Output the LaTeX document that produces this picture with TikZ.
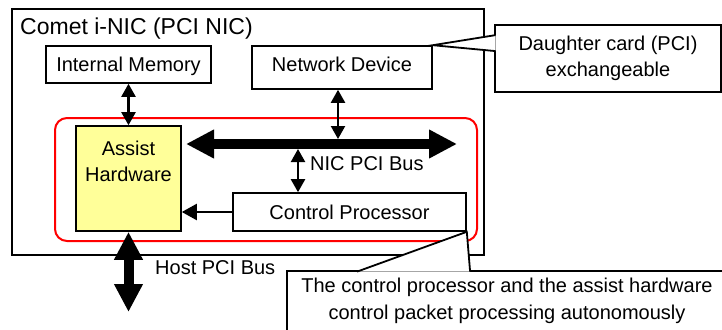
\documentclass[tikz,border=0pt]{standalone}
\usepackage{fontspec}
\setmainfont{Liberation Sans}
\usetikzlibrary{arrows.meta,calc}
\definecolor{hwyellow}{RGB}{255,255,153}
\tikzset{
  box/.style={draw=black,line width=1.6pt,fill=white,inner sep=0pt},
  onebox/.style={box,text height=14pt,text depth=0pt},
  tag/.style={anchor=base west,inner sep=0pt},
  link/.style={line width=2.2pt,{Triangle[length=13pt,width=14pt]}-{Triangle[length=13pt,width=14pt]}},
  bus/.style={line width=10pt,{Triangle[length=28pt,width=27pt]}-{Triangle[length=28pt,width=27pt]}},
  pointer/.style={fill=white,draw=black,line width=1.8pt,line join=miter},
}

\begin{document}
\begin{tikzpicture}[x=1pt,y=-1pt,font=\fontsize{20}{26.5}\selectfont]
        \useasboundingbox (0,0) rectangle (722,329);
        \clip (0,0) rectangle (722,329);

        % board and the autonomous part
        \node[draw=black,line width=2pt,minimum width=472pt,minimum height=246pt,inner sep=0pt] (nic) at (248,132) {};
        \node[tag,font=\fontsize{23}{27}\selectfont] (title) at (20,35) {Comet i-NIC (PCI NIC)};
        \node[draw=red,line width=2pt,rounded corners=12pt,minimum width=422pt,minimum height=123pt,inner sep=0pt] (grp) at (266,179.5) {};

        % units
        \node[onebox,minimum width=165pt,minimum height=37pt] (im) at (128.5, 64.5) {Internal Memory};
        \node[onebox,text height=8.5pt,minimum width=180pt,minimum height=43pt] (nd) at (342, 67.5) {Network Device};
        \node[box,fill=hwyellow,minimum width=105pt,minimum height=105pt,
              label={[align=center,anchor=north,inner sep=0pt,yshift=-15.5pt]north:Assist\\Hardware}] (ah) at (128.5, 178.5) {};
        \node[onebox,minimum width=233pt,minimum height=38pt] (cp) at (349.5, 212) {Control Processor};

        % buses
        \coordinate (busL) at (186, 144);
        \coordinate (busR) at (457, 144);
        \coordinate (host) at (128.5, 312);
        \draw[bus] (busL) -- (busR);
        \draw[bus] (ah.south) -- (host);
        \node[tag] (nicbus)  at (310, 170) {NIC PCI Bus};
        \node[tag] (hostbus) at (155, 274) {Host PCI Bus};

        % links
        \coordinate (ndbus) at (338, 139);
        \coordinate (cpbus) at (298, 149);
        \draw[link] (im.south) -- (ah.north);
        \draw[link] (nd.south -| ndbus) -- (ndbus);
        \draw[link] (cpbus) -- (cpbus |- cp.north);
        \draw[line width=2.2pt,-{Triangle[length=15pt,width=16pt]}] (cp.west) -- (ah.east |- cp.west);

        % callouts
        \node[box,line width=1.8pt,minimum width=226pt,minimum height=67pt,align=center] (dc) at (608, 58.5) {Daughter card (PCI)\\exchangeable};
        \filldraw[pointer] ($(dc.north west)+(1.5,11)$) -- (nd.north east) -- ($(dc.north west)+(1.5,27)$);
        \node[box,line width=1.8pt,minimum width=440pt,minimum height=60pt,align=center] (note) at (507, 301) {The control processor and the assist hardware\\control packet processing autonomously};
        \filldraw[pointer] ($(note.north west)+(71,1.5)$) -- (cp.south east) -- ($(note.north west)+(184,1.5)$);
\end{tikzpicture}
\end{document}
